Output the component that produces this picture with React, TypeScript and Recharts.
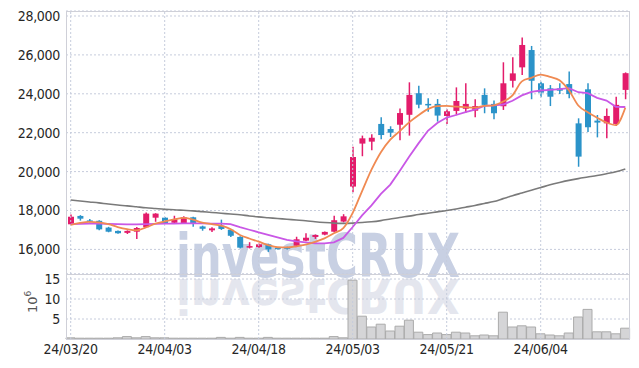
import React from 'react';
import { ComposedChart, Bar, Line, XAxis, YAxis, CartesianGrid, ReferenceLine } from 'recharts';

const dates = [
  '24/03/20', '24/03/21', '24/03/22', '24/03/25', '24/03/26', '24/03/27', '24/03/28', '24/03/29', '24/04/01', '24/04/02',
  '24/04/03', '24/04/04', '24/04/05', '24/04/08', '24/04/09', '24/04/11', '24/04/12', '24/04/15', '24/04/16', '24/04/17',
  '24/04/18', '24/04/19', '24/04/22', '24/04/23', '24/04/24', '24/04/25', '24/04/26', '24/04/29', '24/04/30', '24/05/02',
  '24/05/03', '24/05/07', '24/05/08', '24/05/09', '24/05/10', '24/05/13', '24/05/14', '24/05/16', '24/05/17', '24/05/20',
  '24/05/21', '24/05/22', '24/05/23', '24/05/24', '24/05/27', '24/05/28', '24/05/29', '24/05/30', '24/05/31', '24/06/03',
  '24/06/04', '24/06/05', '24/06/07', '24/06/10', '24/06/11', '24/06/12', '24/06/13', '24/06/14', '24/06/17', '24/06/18',
];

const opens = [
  17290, 17720, 17490, 17470, 17120, 16950, 16850, 16910, 17140, 17630,
  17630, 17370, 17340, 17650, 17180, 16980, 17220, 17010, 16640, 16090,
  16120, 16260, 16090, 16110, 16190, 16450, 16640, 16760, 16910, 17430,
  19230, 21440, 21540, 22450, 22190, 22410, 22920, 24030, 23480, 23480,
  22860, 23120, 23230, 23130, 23940, 23480, 23360, 24670, 25360, 26250,
  24540, 24280, 24280, 24500, 22480, 24230, 22620, 22480, 22450, 24200,
];
const closes = [
  17680, 17580, 17440, 17030, 16910, 16830, 16950, 17100, 17840, 17840,
  17340, 17550, 17650, 17310, 17060, 17080, 17050, 16700, 16090, 16170,
  16260, 16000, 16010, 16030, 16520, 16600, 16740, 16900, 17500, 17700,
  20750, 21710, 21740, 21880, 22000, 23010, 23940, 23440, 23440, 22880,
  23100, 23630, 23480, 23370, 23430, 23000, 24540, 25050, 26510, 24670,
  24060, 23850, 24160, 23990, 20770, 22280, 22520, 22860, 23430, 25060,
];
const highs = [
  17800, 17760, 17560, 17500, 17160, 16970, 16980, 17150, 17900, 17860,
  17660, 17730, 17700, 17680, 17220, 17140, 17530, 17050, 16680, 16370,
  16300, 16290, 16120, 16130, 16650, 16830, 16770, 16920, 17730, 17810,
  21280, 21850, 21920, 22790, 22330, 23250, 24590, 24420, 23770, 23730,
  23200, 24330, 24540, 23720, 24280, 23650, 25620, 25880, 26900, 26460,
  24620, 24450, 24540, 25140, 22740, 24540, 22910, 23250, 23850, 25100,
];
const lows = [
  17260, 17480, 17380, 16980, 16880, 16800, 16790, 16540, 17100, 17420,
  17310, 17340, 17300, 17170, 16960, 16900, 17000, 16640, 16050, 16050,
  16090, 15870, 15990, 16000, 16120, 16420, 16540, 16730, 16880, 17390,
  18940, 20790, 21100, 21660, 21780, 21610, 21850, 23260, 23080, 22570,
  22450, 22900, 23030, 22790, 23000, 22690, 23170, 24330, 24970, 23720,
  23820, 23370, 23990, 23770, 20250, 22030, 21760, 21710, 22350, 23720,
];

const ma5 = [
  17260, 17360, 17410, 17385, 17300, 17150, 17040, 16980, 17130, 17320,
  17440, 17540, 17620, 17530, 17380, 17300, 17220, 17040, 16740, 16560,
  16400, 16220, 16110, 16100, 16160, 16250, 16390, 16570, 16830, 17090,
  17880, 19000, 20100, 21000, 21640, 22080, 22530, 22900, 23210, 23370,
  23380, 23340, 23310, 23290, 23380, 23410, 23600, 23920, 24640, 24820,
  24990, 24870, 24700, 24180, 23400, 23050, 22770, 22520, 22390, 23280,
];
const ma10 = [
  17300, 17310, 17320, 17320, 17310, 17300, 17290, 17290, 17300, 17310,
  17320, 17330, 17340, 17340, 17340, 17330, 17320, 17300, 17140, 17010,
  16880, 16750, 16620, 16490, 16410, 16360, 16310, 16310, 16360, 16590,
  17150, 17750, 18260, 18850, 19330, 20030, 20760, 21450, 22100, 22500,
  22780, 22910, 23060, 23190, 23380, 23400, 23450, 23640, 23920, 24100,
  24170, 24200, 24240, 24290, 24080, 24030, 23790, 23650, 23330, 23320,
];
const ma60 = [
  18540, 18490, 18440, 18390, 18330, 18280, 18240, 18190, 18140, 18100,
  18060, 18040, 18010, 17980, 17940, 17900, 17860, 17820, 17780, 17720,
  17670, 17630, 17590, 17550, 17510, 17470, 17420, 17380, 17350, 17340,
  17350, 17380, 17420, 17480, 17560, 17640, 17710, 17790, 17860, 17930,
  18000, 18080, 18170, 18260, 18360, 18460, 18610, 18760, 18900, 19040,
  19180, 19320, 19440, 19550, 19640, 19720, 19800, 19890, 19990, 20130,
];

const volumes = [
  0.3, 0.2, 0.2, 0.2, 0.2, 0.3, 0.6, 0.3, 0.6, 0.3,
  0.3, 0.2, 0.2, 0.2, 0.2, 0.2, 0.4, 0.2, 0.4, 0.2,
  0.2, 0.4, 0.2, 0.2, 0.2, 0.2, 0.2, 0.2, 0.6, 0.3,
  14.7, 5.7, 3.0, 3.7, 2.0, 3.2, 4.7, 1.7, 1.1, 1.5,
  1.1, 1.7, 1.5, 0.8, 1.0, 0.8, 6.7, 3.0, 3.3, 3.0,
  1.3, 1.0, 0.8, 1.5, 5.5, 7.4, 1.8, 1.8, 1.3, 2.7,
];

const dateTicks = ['24/03/20', '24/04/03', '24/04/18', '24/05/03', '24/05/21', '24/06/04'];
const priceTicks = [16000, 18000, 20000, 22000, 24000, 26000, 28000];
const volumeTicks = [5, 10, 15];

const rows = dates.map((d, i) => ({
  date: d,
  open: opens[i],
  close: closes[i],
  high: highs[i],
  low: lows[i],
  range: [lows[i], highs[i]],
  ma5: ma5[i],
  ma10: ma10[i],
  ma60: ma60[i],
  vol: volumes[i],
}));

const UP = '#e31c6b';
const DOWN = '#2b93c9';
const GRID = '#c6ccdc';
const FONT = "'DejaVu Sans Condensed', 'DejaVu Sans', sans-serif";

const Candle = (props: any) => {
  const { x, y, width, height, payload } = props;
  if (!payload) return null;
  const { open, close, high, low } = payload;
  const span = high - low || 1;
  const ratio = height / span;
  const yOf = (v: number) => y + (high - v) * ratio;
  const color = close >= open ? UP : DOWN;
  const top = yOf(Math.max(open, close));
  const bottom = yOf(Math.min(open, close));
  const cx = x + width / 2;
  return (
    <g>
      <line x1={cx} x2={cx} y1={y} y2={y + height} stroke={color} strokeWidth={1.5} />
      <rect x={x} y={top} width={width} height={Math.max(bottom - top, 1.5)} fill={color} />
    </g>
  );
};

const tickStyle = { fontSize: 14, fill: '#262626', fontFamily: FONT, fontStretch: 'condensed', letterSpacing: -0.3 } as any;

export default function App() {
  return (
    <div style={{ position: 'absolute', left: 0, top: 0, width: 639, height: 368, background: '#fff', overflow: 'hidden' }}>
      <svg width={639} height={368} style={{ position: 'absolute', left: 0, top: 0 }}>
        <defs>
          <clipPath id="reflClip">
            <rect x={0} y={278} width={639} height={38} />
          </clipPath>
        </defs>
        <g fill="#c8d0e3">
          <text
            id="wmText"
            x={176}
            y={277}
            fontSize={60}
            fontWeight={700}
            fontFamily="'DejaVu Sans', sans-serif"
            textLength={284}
            lengthAdjust="spacingAndGlyphs"
          >
            investCRUX
          </text>
        </g>
        <g clipPath="url(#reflClip)">
          <use href="#wmText" fill="#e4e6ee" transform="translate(0 500.6) scale(1 -0.8)" />
        </g>
      </svg>

      <div style={{ position: 'absolute', left: 0, top: 0 }}>
        <ComposedChart width={639} height={274} data={rows} margin={{ top: 11, right: 9, bottom: 0, left: 0 }}>
          <CartesianGrid horizontal vertical={false} stroke={GRID} strokeDasharray="2 2" />
          <XAxis dataKey="date" hide />
          <YAxis
            domain={[14735, 28257]}
            ticks={priceTicks}
            interval={0}
            width={66}
            axisLine={false}
            tickLine={false}
            tickSize={4}
            tickMargin={2}
            tick={tickStyle}
            tickFormatter={(v: number) => v.toLocaleString('en-US')}
            allowDataOverflow
          />
          {dateTicks.map((d) => (
            <ReferenceLine key={d} x={d} stroke={GRID} strokeDasharray="2 2" />
          ))}
          <Bar dataKey="range" barSize={6} shape={Candle} isAnimationActive={false} />
          <Line dataKey="ma60" type="monotone" stroke="#7a7a7a" strokeWidth={1.6} dot={false} isAnimationActive={false} />
          <Line dataKey="ma10" type="linear" stroke="#c957e6" strokeWidth={1.8} dot={false} isAnimationActive={false} />
          <Line dataKey="ma5" type="monotone" stroke="#f08a52" strokeWidth={1.8} dot={false} isAnimationActive={false} />
        </ComposedChart>
      </div>

      <div style={{ position: 'absolute', left: 0, top: 264 }}>
        <ComposedChart width={639} height={104} data={rows} margin={{ top: 10, right: 9, bottom: 0, left: 0 }} barCategoryGap={0}>
          <CartesianGrid horizontal vertical={false} stroke={GRID} strokeDasharray="2 2" />
          <XAxis
            dataKey="date"
            ticks={dateTicks}
            interval={0}
            height={29}
            axisLine={false}
            tickLine={false}
            tickSize={0}
            tickMargin={5}
            tick={tickStyle}
          />
          <YAxis
            domain={[0, 16.25]}
            ticks={volumeTicks}
            interval={0}
            width={66}
            axisLine={false}
            tickLine={false}
            tickSize={4}
            tickMargin={2}
            tick={tickStyle}
            allowDataOverflow
          />
          {dateTicks.map((d) => (
            <ReferenceLine key={d} x={d} stroke={GRID} strokeDasharray="2 2" />
          ))}
          <Bar dataKey="vol" fill="#d5d5d7" stroke="#ababab" strokeWidth={1} isAnimationActive={false} />
        </ComposedChart>
      </div>

      <svg width={60} height={368} style={{ position: 'absolute', left: 0, top: 0 }}>
        <text x={37} y={313} transform="rotate(-90 37 313)" fontSize={13} fill="#555" fontFamily="'DejaVu Sans', sans-serif">
          10
          <tspan dy={-6} fontSize={9}>6</tspan>
        </text>
      </svg>

      <div style={{ position: 'absolute', left: 66, top: 11, width: 564, height: 264, boxSizing: 'border-box', border: '1px solid #cfd0d8', pointerEvents: 'none' }} />
      <div style={{ position: 'absolute', left: 66, top: 274, width: 564, height: 66, boxSizing: 'border-box', border: '1px solid #cfd0d8', pointerEvents: 'none' }} />
    </div>
  );
}
